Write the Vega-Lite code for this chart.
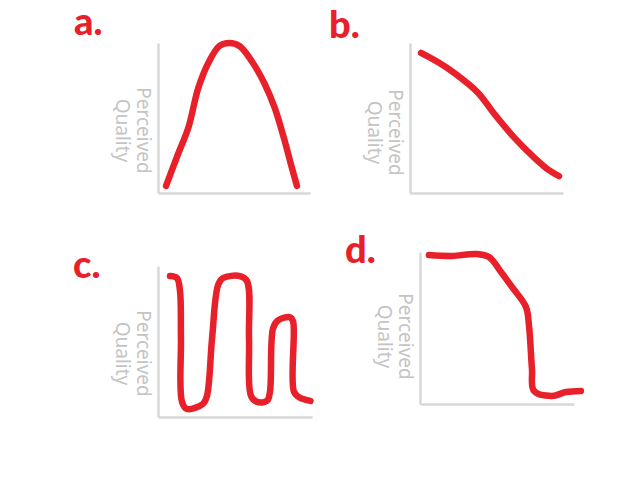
{
  "$schema": "https://vega.github.io/schema/vega-lite/v6.json",
  "padding": {"left": 73, "top": 4, "right": 5, "bottom": 5},
  "background": "white",
  "datasets": {
    "curves": [
      {"panel": "a", "i": 0, "x": 5.3, "y": 4.7},
      {"panel": "a", "i": 1, "x": 13.2, "y": 26},
      {"panel": "a", "i": 2, "x": 19.9, "y": 43.3},
      {"panel": "a", "i": 3, "x": 26.5, "y": 70},
      {"panel": "a", "i": 4, "x": 33.1, "y": 86.7},
      {"panel": "a", "i": 5, "x": 40.4, "y": 98},
      {"panel": "a", "i": 6, "x": 47, "y": 100},
      {"panel": "a", "i": 7, "x": 53.6, "y": 98},
      {"panel": "a", "i": 8, "x": 61.6, "y": 88},
      {"panel": "a", "i": 9, "x": 70.2, "y": 72.7},
      {"panel": "a", "i": 10, "x": 76.8, "y": 56.7},
      {"panel": "a", "i": 11, "x": 82.8, "y": 36.7},
      {"panel": "a", "i": 12, "x": 88.1, "y": 16.7},
      {"panel": "a", "i": 13, "x": 91.4, "y": 4.7},
      {"panel": "b", "i": 0, "x": 7.2, "y": 93.4},
      {"panel": "b", "i": 1, "x": 19, "y": 86.8},
      {"panel": "b", "i": 2, "x": 28.8, "y": 80.1},
      {"panel": "b", "i": 3, "x": 44.4, "y": 66.9},
      {"panel": "b", "i": 4, "x": 54.9, "y": 53},
      {"panel": "b", "i": 5, "x": 68, "y": 37.1},
      {"panel": "b", "i": 6, "x": 81, "y": 23.8},
      {"panel": "b", "i": 7, "x": 90.8, "y": 15.2},
      {"panel": "b", "i": 8, "x": 97.4, "y": 11.3},
      {"panel": "c", "i": 0, "x": 7.8, "y": 93.3},
      {"panel": "c", "i": 1, "x": 12.3, "y": 92},
      {"panel": "c", "i": 2, "x": 14.3, "y": 83.3},
      {"panel": "c", "i": 3, "x": 14.9, "y": 52},
      {"panel": "c", "i": 4, "x": 15.6, "y": 10},
      {"panel": "c", "i": 5, "x": 18.8, "y": 5.3},
      {"panel": "c", "i": 6, "x": 29.2, "y": 8.7},
      {"panel": "c", "i": 7, "x": 31.8, "y": 14},
      {"panel": "c", "i": 8, "x": 35.1, "y": 52},
      {"panel": "c", "i": 9, "x": 39, "y": 87.3},
      {"panel": "c", "i": 10, "x": 42.2, "y": 92},
      {"panel": "c", "i": 11, "x": 53.2, "y": 93.3},
      {"panel": "c", "i": 12, "x": 57.8, "y": 90},
      {"panel": "c", "i": 13, "x": 59.1, "y": 52},
      {"panel": "c", "i": 14, "x": 60.4, "y": 14},
      {"panel": "c", "i": 15, "x": 64.3, "y": 10},
      {"panel": "c", "i": 16, "x": 70.8, "y": 10.7},
      {"panel": "c", "i": 17, "x": 72.7, "y": 16.7},
      {"panel": "c", "i": 18, "x": 74.7, "y": 58.7},
      {"panel": "c", "i": 19, "x": 77.9, "y": 64},
      {"panel": "c", "i": 20, "x": 85.7, "y": 66},
      {"panel": "c", "i": 21, "x": 87.7, "y": 63.3},
      {"panel": "c", "i": 22, "x": 88.3, "y": 16.7},
      {"panel": "c", "i": 23, "x": 92.2, "y": 12.7},
      {"panel": "c", "i": 24, "x": 99, "y": 10.7},
      {"panel": "d", "i": 0, "x": 5.8, "y": 98},
      {"panel": "d", "i": 1, "x": 20.8, "y": 97.4},
      {"panel": "d", "i": 2, "x": 36.4, "y": 98.7},
      {"panel": "d", "i": 3, "x": 44.8, "y": 96.7},
      {"panel": "d", "i": 4, "x": 52.6, "y": 86.8},
      {"panel": "d", "i": 5, "x": 59.7, "y": 77},
      {"panel": "d", "i": 6, "x": 68.8, "y": 63.8},
      {"panel": "d", "i": 7, "x": 70.8, "y": 51.3},
      {"panel": "d", "i": 8, "x": 72.7, "y": 23},
      {"panel": "d", "i": 9, "x": 74, "y": 8.6},
      {"panel": "d", "i": 10, "x": 85.7, "y": 5.3},
      {"panel": "d", "i": 11, "x": 94.8, "y": 7.9},
      {"panel": "d", "i": 12, "x": 104.5, "y": 8.6}
    ]
  },
  "spacing": 39,
  "vconcat": [
    {
      "spacing": 19,
      "hconcat": [
        {
          "width": 152,
          "height": 150,
          "title": {"text": "a.", "dx": -84, "offset": -3},
          "data": {"name": "curves"},
          "transform": [{"filter": "datum.panel == 'a'"}],
          "mark": {"type": "line", "interpolate": "catmull-rom", "clip": false},
          "encoding": {
            "x": {"field": "x", "type": "quantitative", "scale": {"domain": [0, 100]}, "axis": {"title": null}},
            "y": {"field": "y", "type": "quantitative", "scale": {"domain": [0, 100]}, "axis": {"title": ["Perceived", "Quality"], "titleY": 87}},
            "order": {"field": "i"}
          }
        },
        {
          "width": 153,
          "height": 150,
          "title": {"text": "b.", "dx": -81, "offset": -3},
          "data": {"name": "curves"},
          "transform": [{"filter": "datum.panel == 'b'"}],
          "mark": {"type": "line", "interpolate": "catmull-rom", "clip": false},
          "encoding": {
            "x": {"field": "x", "type": "quantitative", "scale": {"domain": [0, 100]}, "axis": {"title": null}},
            "y": {"field": "y", "type": "quantitative", "scale": {"domain": [0, 100]}, "axis": {"title": ["Perceived", "Quality"], "titleY": 89}},
            "order": {"field": "i"}
          }
        }
      ]
    },
    {
      "spacing": 31,
      "hconcat": [
        {
          "width": 154,
          "height": 165,
          "title": {"text": "c.", "dx": -85, "offset": -34},
          "data": {"name": "curves"},
          "transform": [{"filter": "datum.panel == 'c'"}],
          "mark": {"type": "line", "interpolate": "catmull-rom", "clip": false},
          "encoding": {
            "x": {"field": "x", "type": "quantitative", "scale": {"domain": [0, 100]}, "axis": {"title": null}},
            "y": {"field": "y", "type": "quantitative", "scale": {"domain": [0, 100], "range": [165, 14]}, "axis": {"title": ["Perceived", "Quality"], "titleY": 101}},
            "order": {"field": "i"}
          }
        },
        {
          "width": 154,
          "height": 152,
          "title": {"text": "d.", "dx": -75, "offset": -20},
          "data": {"name": "curves"},
          "transform": [{"filter": "datum.panel == 'd'"}],
          "mark": {"type": "line", "interpolate": "catmull-rom", "clip": false},
          "encoding": {
            "x": {"field": "x", "type": "quantitative", "scale": {"domain": [0, 100]}, "axis": {"title": null}},
            "y": {"field": "y", "type": "quantitative", "scale": {"domain": [0, 100]}, "axis": {"title": ["Perceived", "Quality"], "titleY": 84}},
            "order": {"field": "i"}
          }
        }
      ]
    }
  ],
  "config": {
    "view": {"stroke": null},
    "line": {"color": "#e8202a", "strokeWidth": 6.5, "strokeCap": "round", "strokeJoin": "round"},
    "title": {
      "anchor": "start",
      "frame": "group",
      "font": "Lato",
      "fontSize": 38,
      "fontWeight": 900,
      "color": "#e8202a"
    },
    "axis": {
      "domainColor": "#d8d8d8",
      "domainWidth": 2.5,
      "ticks": false,
      "labels": false,
      "grid": false,
      "titleFont": "Noto Sans",
      "titleFontSize": 19,
      "titleFontWeight": "normal",
      "titleColor": "#c4c4c4",
      "titleLineHeight": 21
    },
    "axisY": {"titleAngle": 90, "titleX": -16, "titleBaseline": "middle"}
  }
}
